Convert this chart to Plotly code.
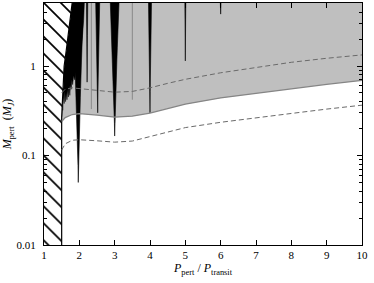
import numpy as np
import plotly.graph_objects as go

# ---------------- data ----------------
period_ratio = [1.5, 1.6, 1.8, 2.0, 2.5, 3.0, 3.5, 4.0, 4.5, 5.0, 6.0, 7.0, 8.0, 9.0, 10.0]
mass_limit = [0.24, 0.265, 0.287, 0.293, 0.283, 0.268, 0.275, 0.298, 0.335, 0.375, 0.44, 0.495, 0.56, 0.625, 0.69]
mass_upper_dashed = [0.50, 0.55, 0.57, 0.56, 0.53, 0.51, 0.52, 0.57, 0.64, 0.71, 0.84, 0.97, 1.10, 1.22, 1.33]
mass_lower_dashed = [0.115, 0.135, 0.148, 0.150, 0.146, 0.141, 0.145, 0.163, 0.185, 0.205, 0.235, 0.265, 0.295, 0.33, 0.365]

# unstable (hatched) zone boundary
unstable_mass = [0.005, 0.27, 0.5, 1.0, 1.5, 2.5, 6.0]
unstable_ratio = [1.5, 1.5, 1.53, 1.57, 1.63, 1.71, 1.82]

# jagged edge of the chaotic (black) zone next to the unstable zone
chaos_edge_ratio = [1.50, 1.52, 1.53, 1.55, 1.57, 1.59, 1.61, 1.63, 1.65, 1.67, 1.69, 1.71,
                    1.73, 1.75, 1.77, 1.79, 1.81, 1.84, 1.87, 1.90, 1.93, 1.96, 2.00, 2.03,
                    2.06, 2.09, 2.12, 2.15]
chaos_edge_mass = [0.27, 0.40, 0.32, 0.48, 0.38, 0.52, 0.40, 0.50, 0.42, 0.55, 0.45, 0.60,
                   0.47, 0.62, 0.55, 0.70, 0.62, 0.78, 0.70, 0.85, 0.75, 0.90, 0.85, 1.10,
                   1.60, 2.20, 3.20, 6.0]

# resonance spikes (black)
res_ratio = [1.97, 2.22, 2.52, 3.0, 4.0, 5.0, 6.0]
res_tip_mass = [0.05, 0.66, 0.30, 0.165, 0.30, 1.14, 3.8]
res_halfwidth = [0.15, 0.02, 0.06, 0.13, 0.045, 0.015, 0.015]

# faint (grey) resonance lines
faint_ratio = [2.34, 3.5]
faint_tip_mass = [0.33, 0.42]

x_tick_vals = [1, 2, 3, 4, 5, 6, 7, 8, 9, 10]
y_tick_vals = [0.01, 0.1, 1]
y_tick_text = ["0.01", "0.1", "1"]
y_minor_vals = [m * d for d in (0.01, 0.1, 1) for m in range(2, 10)]

Y_TOP = 6.0
X_MIN, X_MAX = 1, 10
Y_LOG_RANGE = [-2, 0.704]

fig = go.Figure()

# grey allowed-but-detectable region
fig.add_trace(go.Scatter(
    x=period_ratio + [period_ratio[-1], period_ratio[0]],
    y=mass_limit + [Y_TOP, Y_TOP],
    fill="toself", fillcolor="#bfbfbf", line=dict(width=0), mode="lines",
    hoverinfo="skip", showlegend=False))

# black chaotic zone near the unstable boundary
bx = list(reversed(unstable_ratio[1:])) + chaos_edge_ratio
by = list(reversed(unstable_mass[1:])) + chaos_edge_mass
fig.add_trace(go.Scatter(
    x=bx, y=by, fill="toself", fillcolor="black", line=dict(width=0.5, color="black"),
    mode="lines", hoverinfo="skip", showlegend=False))

# resonance spikes
sx, sy = [], []
lt = np.log10(Y_TOP)
for c, tip, w in zip(res_ratio, res_tip_mass, res_halfwidth):
    f = np.linspace(0, 1, 12)
    ly = lt + f * (np.log10(tip) - lt)
    hw = w * (1 - f) ** 1.2
    xs = list(c - hw) + list(c + hw[::-1])
    ys = list(10 ** ly) + list(10 ** ly[::-1])
    sx += xs + [None]
    sy += ys + [None]
fig.add_trace(go.Scatter(
    x=sx, y=sy, fill="toself", fillcolor="black", line=dict(width=0.6, color="black"),
    mode="lines", hoverinfo="skip", showlegend=False))

fx, fy = [], []
for c, tip in zip(faint_ratio, faint_tip_mass):
    fx += [c, c, None]
    fy += [Y_TOP, tip, None]
fig.add_trace(go.Scatter(x=fx, y=fy, mode="lines", line=dict(color="#8a8a8a", width=1),
                         hoverinfo="skip", showlegend=False))

# hatched unstable zone (opaque white base + hatch pattern)
hx = [X_MIN] + unstable_ratio + [X_MIN]
hy = [unstable_mass[0]] + unstable_mass + [Y_TOP]
fig.add_trace(go.Scatter(
    x=hx, y=hy, fill="toself", fillcolor="white", line=dict(width=0), mode="lines",
    hoverinfo="skip", showlegend=False))
fig.add_trace(go.Scatter(
    x=hx, y=hy, fill="toself", fillcolor="white",
    fillpattern=dict(shape="\\", size=12, solidity=0.14, fgcolor="black", bgcolor="white",
                     fgopacity=1),
    line=dict(color="black", width=1.2), mode="lines", hoverinfo="skip", showlegend=False))

# limit curves
fig.add_trace(go.Scatter(x=period_ratio, y=mass_limit, mode="lines",
                         line=dict(color="#858585", width=1.3), showlegend=False))
fig.add_trace(go.Scatter(x=period_ratio, y=mass_upper_dashed, mode="lines",
                         line=dict(color="#6a6a6a", width=1, dash="5px,3px"), showlegend=False))
fig.add_trace(go.Scatter(x=period_ratio, y=mass_lower_dashed, mode="lines",
                         line=dict(color="#6a6a6a", width=1, dash="5px,3px"), showlegend=False))

tick_font = dict(family="Liberation Serif", size=11, color="black")

fig.update_layout(
    width=374, height=283,
    margin=dict(l=44, r=12, t=3, b=38),
    paper_bgcolor="white", plot_bgcolor="white",
    showlegend=False,
    xaxis=dict(range=[X_MIN - 0.0001, X_MAX + 0.0001], tickvals=x_tick_vals, ticks="inside",
               ticklen=5, tickcolor="black", showline=True, linecolor="black", linewidth=1,
               mirror="allticks", showgrid=False, zeroline=False, tickfont=tick_font,
               automargin=False,
               title=dict(text="<i>P</i><sub>pert</sub> / <i>P</i><sub>transit</sub>",
                          font=dict(family="Liberation Serif", size=12, color="black"),
                          standoff=2)),
    yaxis=dict(type="log", range=Y_LOG_RANGE, tickvals=y_tick_vals, ticktext=y_tick_text,
               ticks="inside", ticklen=5, tickcolor="black", showline=True,
               linecolor="black", linewidth=1, mirror="allticks", showgrid=False,
               zeroline=False, tickfont=tick_font, ticklabelstandoff=5, automargin=False,
               minor=dict(tickvals=y_minor_vals, ticks="inside", ticklen=3,
                          tickcolor="black", showgrid=False),
               title=dict(text="<i>M</i><sub>pert</sub>  (<i>M</i><sub><i>J</i></sub>)",
                          font=dict(family="Liberation Serif", size=12, color="black"),
                          standoff=4)),
)

fig.write_html("out.html", config={"displayModeBar": False},
               post_script="document.body.style.margin='0px';")
